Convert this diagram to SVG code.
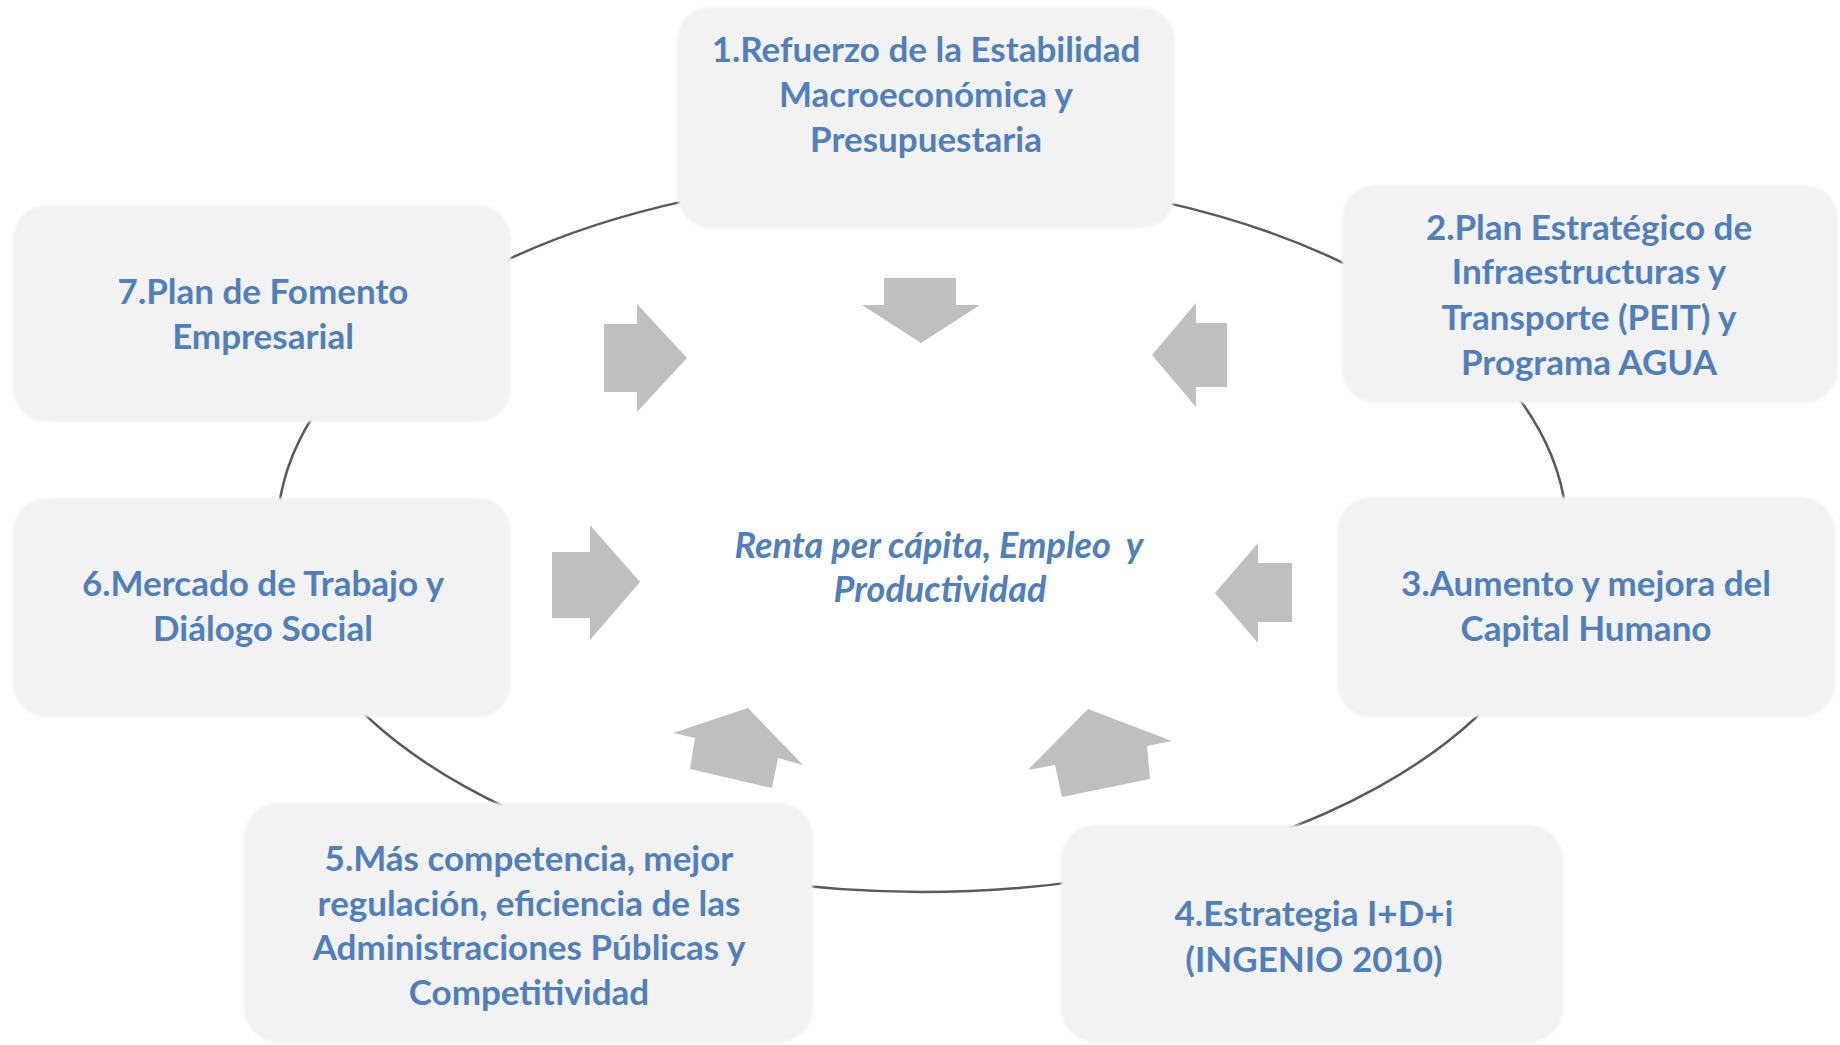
<svg xmlns="http://www.w3.org/2000/svg" width="1840" height="1045" viewBox="0 0 1840 1045">
  <style>
    .box { fill: #f2f2f2; }
    .lbl { font-family: Lato, "Open Sans", "Liberation Sans", sans-serif; font-weight: bold; font-size: 35px; fill: #4f7fbd; text-anchor: middle; }
    .ctr { font-style: italic; font-size: 36px; }
    .arw { fill: #bfbfbf; }
  </style>
  <defs>
    <filter id="soft" x="-5%" y="-5%" width="110%" height="110%">
      <feGaussianBlur stdDeviation="1.5"/>
    </filter>
  </defs>
  <rect width="1840" height="1045" fill="#ffffff"/>
  <g id="ring">
    <ellipse cx="922" cy="534" rx="645" ry="358" fill="#ffffff" stroke="#5a5a5a" stroke-width="2.5"/>
  </g>
  <g id="connectors">
    <polygon class="arw" points="884,278 956,278 956,305 980,305 921,343 862,305 884,305"/>
    <polygon class="arw" points="1227,323 1227,387 1196,387 1196,407 1152,355 1196,303 1196,323"/>
    <polygon class="arw" points="1292,563 1292,622 1258,622 1258,643 1215,593 1258,543 1258,563"/>
    <polygon class="arw" points="1028,770 1088,709 1172,741 1147,746 1150,779 1062,797 1055,765"/>
    <polygon class="arw" points="673,733 748,708 803,765 778,758 772,788 690,769 695,738"/>
    <polygon class="arw" points="552,552 590,552 590,525 640,582 590,640 590,618 552,618"/>
    <polygon class="arw" points="604,324 637,324 637,304 687,358 637,412 637,392 604,392"/>
  </g>
  <g id="node1">
    <rect class="box" x="677" y="7" width="498" height="221" rx="34" filter="url(#soft)"/>
    <text class="lbl" x="926" y="62">1.Refuerzo de la Estabilidad</text>
    <text class="lbl" x="926" y="107">Macroeconómica y</text>
    <text class="lbl" x="926" y="152">Presupuestaria</text>
  </g>
  <g id="node2">
    <rect class="box" x="1342" y="185" width="496" height="218" rx="34" filter="url(#soft)"/>
    <text class="lbl" x="1589" y="240">2.Plan Estratégico de</text>
    <text class="lbl" x="1589" y="284">Infraestructuras y</text>
    <text class="lbl" x="1589" y="330">Transporte (PEIT) y</text>
    <text class="lbl" x="1589" y="375">Programa AGUA</text>
  </g>
  <g id="node3">
    <rect class="box" x="1337" y="497" width="498" height="220" rx="34" filter="url(#soft)"/>
    <text class="lbl" x="1586" y="596">3.Aumento y mejora del</text>
    <text class="lbl" x="1586" y="641">Capital Humano</text>
  </g>
  <g id="node4">
    <rect class="box" x="1061" y="825" width="502" height="217" rx="34" filter="url(#soft)"/>
    <text class="lbl" x="1314" y="926">4.Estrategia I+D+i</text>
    <text class="lbl" x="1314" y="972">(INGENIO 2010)</text>
  </g>
  <g id="node5">
    <rect class="box" x="244" y="803" width="569" height="239" rx="34" filter="url(#soft)"/>
    <text class="lbl" x="529" y="871">5.Más competencia, mejor</text>
    <text class="lbl" x="529" y="916">regulación, eficiencia de las</text>
    <text class="lbl" x="529" y="960">Administraciones Públicas y</text>
    <text class="lbl" x="529" y="1005">Competitividad</text>
  </g>
  <g id="node6">
    <rect class="box" x="13" y="498" width="498" height="219" rx="34" filter="url(#soft)"/>
    <text class="lbl" x="263" y="596">6.Mercado de Trabajo y</text>
    <text class="lbl" x="263" y="641">Diálogo Social</text>
  </g>
  <g id="node7">
    <rect class="box" x="13" y="205" width="498" height="217" rx="34" filter="url(#soft)"/>
    <text class="lbl" x="263" y="304">7.Plan de Fomento</text>
    <text class="lbl" x="263" y="349">Empresarial</text>
  </g>
  <g id="center">
    <text class="lbl ctr" x="939" y="558" xml:space="preserve">Renta per cápita, Empleo  y</text>
    <text class="lbl ctr" x="940" y="602">Productividad</text>
  </g>
</svg>
